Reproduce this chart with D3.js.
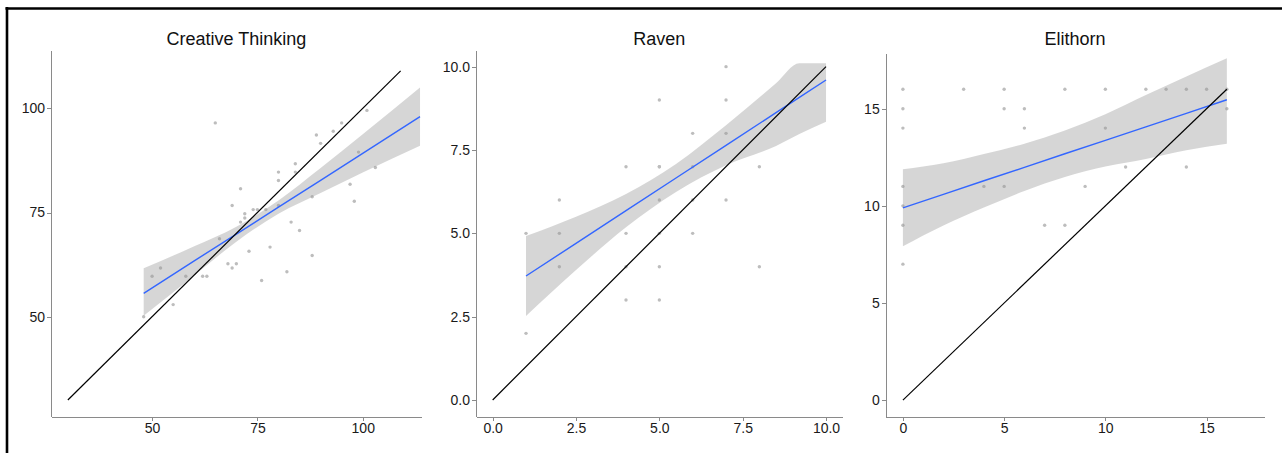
<!DOCTYPE html>
<html lang="en">
<head>
<meta charset="utf-8">
<title>Observed vs predicted</title>
<script src="https://cdn.jsdelivr.net/npm/d3@7"></script>
<style>
  body { margin: 0; background: #fff; }
  .axis path, .axis line { stroke: #8a8a8a; shape-rendering: crispEdges; }
  .axis text { fill: #1a1a1a; font-family: "Liberation Sans", Arial, sans-serif; font-size: 14px; }
  .title { font-family: "Liberation Sans", Arial, sans-serif; font-size: 18px; fill: #111; }
</style>
</head>
<body>
<script>
// ---- Creative Thinking ----
var ctX = [48, 50, 52, 55, 58, 62, 63, 65, 66, 68, 69, 69, 70, 71, 71, 72, 72, 73, 74, 75, 76, 77, 78, 80, 80, 80, 82, 83, 84, 84, 85, 88, 88, 89, 90, 93, 95, 97, 98, 99, 101, 103];
var ctY = [50, 59.7, 61.7, 52.9, 59.7, 59.7, 59.7, 96.5, 68.7, 62.7, 76.7, 61.7, 62.7, 80.7, 72.7, 74.7, 73.7, 65.7, 75.7, 75.7, 58.7, 75.7, 66.7, 84.7, 82.7, 76.7, 60.8, 72.7, 86.7, 84.7, 70.7, 78.8, 64.7, 93.6, 91.6, 94.5, 96.5, 81.8, 77.7, 89.5, 99.5, 85.8];
var ctBandX = [48, 60, 70, 80, 90, 100, 113.6];
var ctFit   = [55.6, 63.4, 69.8, 76.3, 82.7, 89.2, 98.0];
var ctLo    = [50.2, 59.9, 68.0, 74.7, 79.7, 84.6, 91.0];
var ctHi    = [61.6, 66.9, 71.6, 77.9, 85.7, 93.8, 105.0];
var ctDiag  = [30, 109];
var ctTicks = [50, 75, 100];

// ---- Raven ----
var ravenX = [1, 1, 2, 2, 2, 4, 4, 4, 4, 5, 5, 5, 5, 5, 5, 5, 6, 6, 6, 6, 7, 7, 7, 7, 8, 8];
var ravenY = [2, 5, 6, 5, 4, 7, 5, 4, 3, 9, 7, 6, 5, 4, 3, 7, 8, 7, 6, 5, 10, 9, 8, 6, 7, 4];
var ravenBandX = [1, 2.5, 4, 5.5, 7, 8.5, 9.2, 10];
var ravenFit   = [3.72, 4.70, 5.68, 6.66, 7.64, 8.62, 9.08, 9.60];
var ravenLo    = [2.52, 3.90, 5.18, 6.24, 7.04, 7.62, 7.98, 8.35];
var ravenHi    = [4.92, 5.50, 6.18, 7.08, 8.24, 9.50, 10.1, 10.1];
var ravenDiag  = [0, 10];
var ravenTicks = [0, 2.5, 5, 7.5, 10];

// ---- Elithorn ----
var elithX = [0, 0, 0, 0, 0, 0, 0, 3, 4, 5, 5, 5, 6, 6, 7, 8, 8, 9, 10, 10, 11, 12, 13, 14, 14, 15, 16, 16];
var elithY = [16, 15, 14, 11, 10, 9, 7, 16, 11, 16, 15, 11, 15, 14, 9, 16, 9, 11, 16, 14, 12, 16, 16, 16, 12, 16, 16, 15];
var elithBandX = [0, 2, 4, 6, 8, 10, 12, 14, 16];
var elithFit   = [9.90, 10.59, 11.29, 11.98, 12.68, 13.37, 14.06, 14.76, 15.46];
var elithLo    = [7.92, 8.99, 9.91, 10.76, 11.48, 12.02, 12.41, 12.86, 13.20];
var elithHi    = [11.88, 12.19, 12.67, 13.20, 13.88, 14.72, 15.71, 16.66, 17.60];
var elithDiag  = [0, 16];
var elithTicks = [0, 5, 10, 15];

var W = 1282, H = 453;
var svg = d3.select("body").append("svg").attr("width", W).attr("height", H);

// outer frame (only the top and left edge show)
svg.append("line").attr("x1", 5.5).attr("x2", W).attr("y1", 8.5).attr("y2", 8.5)
   .attr("stroke", "#000").attr("stroke-width", 2.6);
svg.append("line").attr("x1", 7).attr("x2", 7).attr("y1", 7).attr("y2", H)
   .attr("stroke", "#000").attr("stroke-width", 2.6);

function draw(p) {
  var x = d3.scaleLinear().domain(p.domain).range([p.left, p.right]);
  var y = d3.scaleLinear().domain(p.domain).range([p.bottom, p.top]);
  var g = svg.append("g");

  // points
  g.selectAll(".pt").data(p.xs).enter().append("circle")
    .attr("class", "pt")
    .attr("cx", function(d) { return x(d); })
    .attr("cy", function(d, i) { return y(p.ys[i]); })
    .attr("r", 1.7)
    .attr("fill", "#bdbdbd");

  var band = p.bandX.map(function(v, i) { return {x: v, lo: p.lo[i], hi: p.hi[i], f: p.fit[i]}; });

  // confidence ribbon
  g.append("path").datum(band)
    .attr("d", d3.area().curve(d3.curveMonotoneX)
      .x(function(d) { return x(d.x); })
      .y0(function(d) { return y(d.lo); })
      .y1(function(d) { return y(d.hi); }))
    .attr("fill", "#999999").attr("fill-opacity", 0.4);

  // fitted line
  g.append("path").datum(band)
    .attr("d", d3.line().x(function(d) { return x(d.x); }).y(function(d) { return y(d.f); }))
    .attr("fill", "none").attr("stroke", "#3366FF").attr("stroke-width", 1.4);

  // identity line
  g.append("line")
    .attr("x1", x(p.diag[0])).attr("y1", y(p.diag[0]))
    .attr("x2", x(p.diag[1])).attr("y2", y(p.diag[1]))
    .attr("stroke", "#000").attr("stroke-width", 1.2);

  // axes
  g.append("g").attr("class", "axis")
    .attr("transform", "translate(0," + p.bottom + ")")
    .call(d3.axisBottom(x).tickValues(p.ticks).tickFormat(p.fmt).tickSize(4).tickPadding(2).tickSizeOuter(0));
  g.append("g").attr("class", "axis")
    .attr("transform", "translate(" + p.left + ",0)")
    .call(d3.axisLeft(y).tickValues(p.ticks).tickFormat(p.fmt).tickSize(4).tickPadding(2).tickSizeOuter(0));

  g.append("text").attr("class", "title")
    .attr("x", (p.left + p.right) / 2).attr("y", 44.5)
    .attr("text-anchor", "middle")
    .text(p.title);
}

draw({title: "Creative Thinking", left: 51, right: 421.7, top: 50, bottom: 416.7, domain: [26, 114],
      xs: ctX, ys: ctY, bandX: ctBandX, fit: ctFit, lo: ctLo, hi: ctHi, diag: ctDiag,
      ticks: ctTicks, fmt: d3.format("d")});
draw({title: "Raven", left: 476, right: 842.7, top: 50, bottom: 416.7, domain: [-0.5, 10.5],
      xs: ravenX, ys: ravenY, bandX: ravenBandX, fit: ravenFit, lo: ravenLo, hi: ravenHi, diag: ravenDiag,
      ticks: ravenTicks, fmt: d3.format(".1f")});
draw({title: "Elithorn", left: 885.7, right: 1264.3, top: 53.3, bottom: 416.7, domain: [-0.85, 17.85],
      xs: elithX, ys: elithY, bandX: elithBandX, fit: elithFit, lo: elithLo, hi: elithHi, diag: elithDiag,
      ticks: elithTicks, fmt: d3.format("d")});
</script>
</body>
</html>
